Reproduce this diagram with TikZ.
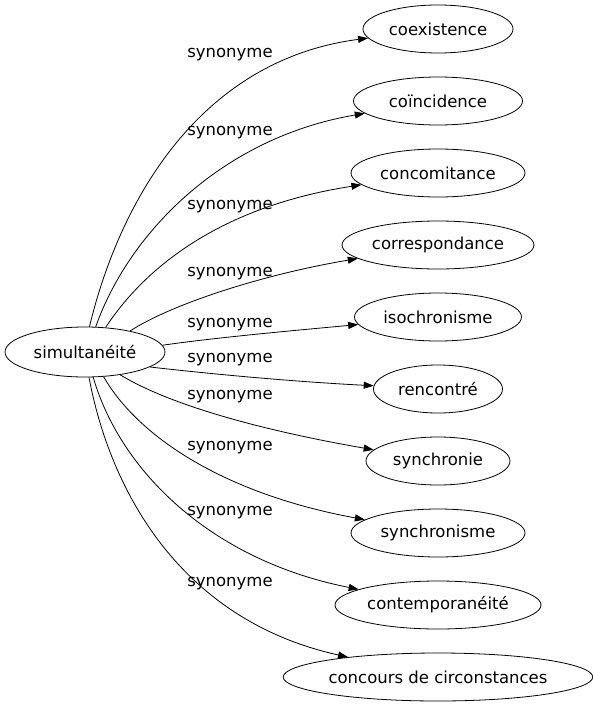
\documentclass[tikz,border=0pt]{standalone}
\usepackage{fontspec}
\setmainfont{DejaVu Sans}
\usetikzlibrary{shapes,arrows.meta,positioning}

\begin{document}
\begin{tikzpicture}[x=1pt, y=-1pt, >={Triangle[length=10pt,width=7pt]},
    every node/.style={font=\fontsize{16.5}{19}\selectfont},
    word/.style={draw, ellipse, line width=0.8pt, inner sep=0pt, minimum height=48pt},
    syn/.style={->, line width=0.8pt}]
    \useasboundingbox (0,0) rectangle (593,707);

    \node [word, minimum width=160pt, minimum height=50pt] (simul) at (85,352) {simultanéité};

    \node [word, minimum width=150pt] (coex) at (438,29) {coexistence};
    \node [word, minimum width=169pt, below=23.2pt of coex] (coinc) {coïncidence};
    \node [word, minimum width=174pt, below=23.2pt of coinc] (concom) {concomitance};
    \node [word, minimum width=192pt, below=23.2pt of concom] (corresp) {correspondance};
    \node [word, minimum width=167pt, below=23.2pt of corresp] (isochro) {isochronisme};
    \node [word, minimum width=129pt, below=23.2pt of isochro] (renc) {rencontré};
    \node [word, minimum width=144pt, below=23.2pt of renc] (synchie) {synchronie};
    \node [word, minimum width=174pt, below=23.2pt of synchie] (synchsme) {synchronisme};
    \node [word, minimum width=206pt, below=23.2pt of synchsme] (contemp) {contemporanéité};
    \node [word, minimum width=300pt, below=23.2pt of contemp] (concours) {concours de circonstances};

    \node (lab1) at (230,55) {synonyme};
    \node (lab2) at (230,133) {synonyme};
    \node (lab3) at (230,207) {synonyme};
    \node (lab4) at (230,274) {synonyme};
    \node (lab5) at (230,325) {synonyme};
    \node (lab6) at (230,360) {synonyme};
    \node (lab7) at (230,397) {synonyme};
    \node (lab8) at (230,448) {synonyme};
    \node (lab9) at (230,513) {synonyme};
    \node (lab10) at (230,584) {synonyme};

    \draw [syn] (simul.80) .. controls (120,200) and (200,60) .. (coex);
    \draw [syn] (simul.67) .. controls (130,230) and (225,137) .. (coinc);
    \draw [syn] (simul.50) .. controls (150,260) and (230,205) .. (concom);
    \draw [syn] (simul.25) .. controls (170,305) and (260,275) .. (corresp);
    \draw [syn] (simul.5) .. controls (220,337) and (300,330) .. (isochro);
    \draw [syn] (simul.-13) .. controls (220,375) and (300,382) .. (renc);
    \draw [syn] (simul.-33) .. controls (170,405) and (260,430) .. (synchie);
    \draw [syn] (simul.-53) .. controls (140,440) and (230,495) .. (synchsme);
    \draw [syn] (simul.-72) .. controls (120,470) and (210,560) .. (contemp);
    \draw [syn] (simul.-81) .. controls (110,490) and (180,620) .. (concours);
\end{tikzpicture}
\end{document}
